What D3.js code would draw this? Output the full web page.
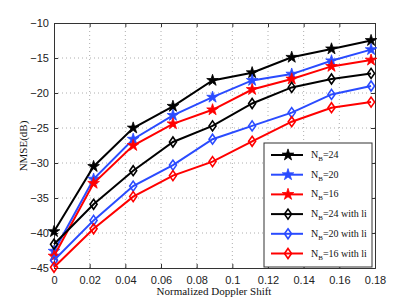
<!DOCTYPE html>
<html><head><meta charset="utf-8">
<script src="https://cdn.jsdelivr.net/npm/d3@7"></script>
<style>body{margin:0;background:#fff}svg{display:block}</style>
</head><body>
<script>
const xValues = [0, 0.0222, 0.0444, 0.0667, 0.0889, 0.1111, 0.1333, 0.1556, 0.1778];
const nb24 = [-39.8, -30.5, -25.0, -21.9, -18.2, -17.1, -14.9, -13.7, -12.5];
const nb20 = [-42.6, -32.3, -26.6, -23.2, -20.6, -18.2, -17.3, -15.4, -13.8];
const nb16 = [-43.3, -32.9, -27.5, -24.4, -22.4, -19.5, -18.0, -16.2, -15.3];
const nb24li = [-41.6, -35.9, -31.1, -27.0, -24.7, -21.5, -19.2, -18.0, -17.2];
const nb20li = [-43.9, -38.2, -33.3, -30.3, -26.6, -24.7, -22.8, -20.2, -19.0];
const nb16li = [-44.9, -39.4, -34.8, -31.8, -29.8, -26.9, -24.1, -22.1, -21.3];
const xTicks = [0, 0.02, 0.04, 0.06, 0.08, 0.1, 0.12, 0.14, 0.16, 0.18];
const yTicks = [-45, -40, -35, -30, -25, -20, -15, -10];
const seriesNames = ["24", "20", "16", "24 with li", "20 with li", "16 with li"];

const series = [
  {n: seriesNames[0], v: nb24, c: "#000", m: "star"},
  {n: seriesNames[1], v: nb20, c: "#2a4bff", m: "star"},
  {n: seriesNames[2], v: nb16, c: "#ff0000", m: "star"},
  {n: seriesNames[3], v: nb24li, c: "#000", m: "diamond"},
  {n: seriesNames[4], v: nb20li, c: "#2a4bff", m: "diamond"},
  {n: seriesNames[5], v: nb16li, c: "#ff0000", m: "diamond"}
];

const W = 415, H = 302;
const L = 54, R = 375, T = 23, B = 268;
const svg = d3.select("body").append("svg").attr("width", W).attr("height", H);
const x = d3.scaleLinear().domain([0, 0.18]).range([L, R]);
const y = d3.scaleLinear().domain([-45, -10]).range([B, T]);

// grid
const g = svg.append("g");
g.selectAll(".gx").data(xTicks.slice(1, -1)).enter().append("line")
  .attr("x1", d => x(d)).attr("x2", d => x(d)).attr("y1", T).attr("y2", B)
  .attr("stroke", "#999").attr("stroke-width", 0.8).attr("stroke-dasharray", "1,3");
g.selectAll(".gy").data(yTicks.slice(1, -1)).enter().append("line")
  .attr("y1", d => y(d)).attr("y2", d => y(d)).attr("x1", L).attr("x2", R)
  .attr("stroke", "#999").attr("stroke-width", 0.8).attr("stroke-dasharray", "1,3");

// axes
const fmt = d => d === 0 ? "0" : d3.format("")(+d.toFixed(2));
const axB = svg.append("g").attr("transform", `translate(0,${B})`)
  .call(d3.axisBottom(x).tickValues(xTicks).tickSize(-4).tickPadding(8).tickFormat(fmt));
const axT = svg.append("g").attr("transform", `translate(0,${T})`)
  .call(d3.axisTop(x).tickValues(xTicks).tickSize(-4).tickFormat(""));
const axL = svg.append("g").attr("transform", `translate(${L},0)`)
  .call(d3.axisLeft(y).tickValues(yTicks).tickSize(-4).tickPadding(5).tickFormat(d => d < 0 ? "\u2212" + Math.abs(d) : d));
const axR = svg.append("g").attr("transform", `translate(${R},0)`)
  .call(d3.axisRight(y).tickValues(yTicks).tickSize(-4).tickFormat(""));
[axB, axT, axL, axR].forEach(a => {
  a.select(".domain").attr("stroke", "#333").attr("stroke-width", 1);
  a.selectAll(".tick line").attr("stroke", "#333");
  a.selectAll("text").attr("font-family", "Liberation Sans, Arial, sans-serif").attr("font-size", 11).attr("fill", "#222");
});

const starPath = d3.symbol().type(d3.symbolStar).size(42)();
function drawMarker(sel, m, c) {
  if (m === "star") {
    sel.append("path").attr("d", starPath).attr("fill", c).attr("stroke", c).attr("stroke-width", 0.8);
  } else {
    sel.append("path").attr("d", "M0,-5L3.5,0L0,5L-3.5,0Z").attr("fill", "none").attr("stroke", c).attr("stroke-width", 1.6);
  }
}

const line = d3.line().x((d, i) => x(xValues[i])).y(d => y(d));
series.forEach(s => {
  svg.append("path").datum(s.v).attr("d", line).attr("fill", "none")
    .attr("stroke", s.c).attr("stroke-width", 2);
  s.v.forEach((v, i) => {
    const mg = svg.append("g").attr("transform", `translate(${x(xValues[i])},${y(v)})`);
    drawMarker(mg, s.m, s.c);
  });
});

// legend
const lg = svg.append("g");
lg.append("rect").attr("x", 264).attr("y", 143).attr("width", 108).attr("height", 124)
  .attr("fill", "#fff").attr("stroke", "#333").attr("stroke-width", 1);
series.forEach((s, i) => {
  const yy = 155 + i * 19.7;
  lg.append("line").attr("x1", 271).attr("x2", 303).attr("y1", yy).attr("y2", yy)
    .attr("stroke", s.c).attr("stroke-width", 2);
  const mg = lg.append("g").attr("transform", `translate(288,${yy})`);
  drawMarker(mg, s.m, s.c);
  const t = lg.append("text").attr("x", 311).attr("y", yy + 3)
    .attr("font-family", "Liberation Serif, Times New Roman, serif").attr("font-size", 10).attr("fill", "#111");
  t.append("tspan").text("N");
  t.append("tspan").attr("font-size", 7).attr("dy", 3).text("B");
  t.append("tspan").attr("dy", -3).text("=" + s.n);
});

// labels
svg.append("text").attr("x", 214).attr("y", 295).attr("text-anchor", "middle")
  .attr("font-family", "Liberation Serif, Times New Roman, serif").attr("font-size", 11).attr("fill", "#111")
  .text("Normalized Doppler Shift");
svg.append("text").attr("transform", `translate(27,146) rotate(-90)`).attr("text-anchor", "middle")
  .attr("font-family", "Liberation Serif, Times New Roman, serif").attr("font-size", 11).attr("fill", "#111")
  .text("NMSE(dB)");
</script>
</body></html>
